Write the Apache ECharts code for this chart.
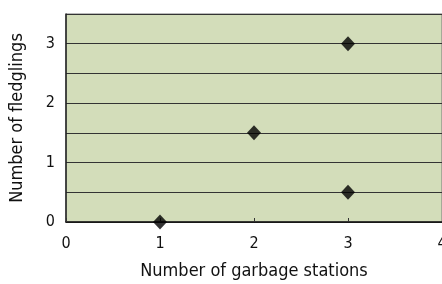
<!DOCTYPE html>
<html>
<head>
<meta charset="utf-8">
<script src="https://cdn.jsdelivr.net/npm/echarts@6/dist/echarts.min.js"></script>
<style>
  html, body { margin: 0; padding: 0; background: #fff; }
  #chart { width: 442px; height: 284px; }
</style>
</head>
<body>
<div id="chart"></div>
<script>
  // garbage stations vs fledglings
  var stations = [1, 2, 3, 3];
  var fledglings = [0, 1.5, 3, 0.5];
  var xTicks = [0, 1, 2, 3, 4];
  var yTicks = [0, 1, 2, 3];

  var points = stations.map(function (s, i) { return [s, fledglings[i]]; });
  var font = '"Liberation Sans Narrow", "DejaVu Sans Condensed", "Liberation Sans", sans-serif';

  var myChart = echarts.init(document.getElementById('chart'));
  myChart.setOption({
    animation: false,
    grid: {
      left: 66, top: 14, right: 0, bottom: 62,
      outerBoundsMode: 'none',
      containLabel: false,
      show: true,
      backgroundColor: '#d3ddba',
      borderColor: '#777',
      borderWidth: 1
    },
    xAxis: {
      type: 'value',
      min: xTicks[0], max: xTicks[xTicks.length - 1], interval: 1,
      name: 'Number of garbage stations',
      nameLocation: 'middle', nameGap: 40,
      nameTextStyle: { fontFamily: font, fontSize: 18, color: '#111' },
      axisLine: { show: true, lineStyle: { color: '#111', width: 1.5 } },
      axisTick: { show: true, inside: true, length: 4, lineStyle: { color: '#333' } },
      axisLabel: { fontFamily: font, fontSize: 16, color: '#111', margin: 14 },
      splitLine: { show: false }
    },
    yAxis: {
      type: 'value',
      min: 0, max: 3.5, interval: 0.5,
      name: 'Number of fledglings',
      nameLocation: 'middle', nameGap: 40,
      nameTextStyle: { fontFamily: font, fontSize: 18, color: '#111' },
      axisLine: { show: true, lineStyle: { color: '#222', width: 1.5 } },
      axisTick: { show: false },
      axisLabel: {
        fontFamily: font, fontSize: 16, color: '#111', margin: 11,
        formatter: function (v) { return yTicks.indexOf(v) >= 0 ? String(v) : ''; }
      },
      splitLine: { show: true, lineStyle: { color: '#333', width: 1 } }
    },
    series: [{
      type: 'scatter',
      data: points,
      symbol: 'diamond',
      symbolSize: [14, 15],
      itemStyle: { color: '#000' }
    }]
  });
</script>
</body>
</html>
